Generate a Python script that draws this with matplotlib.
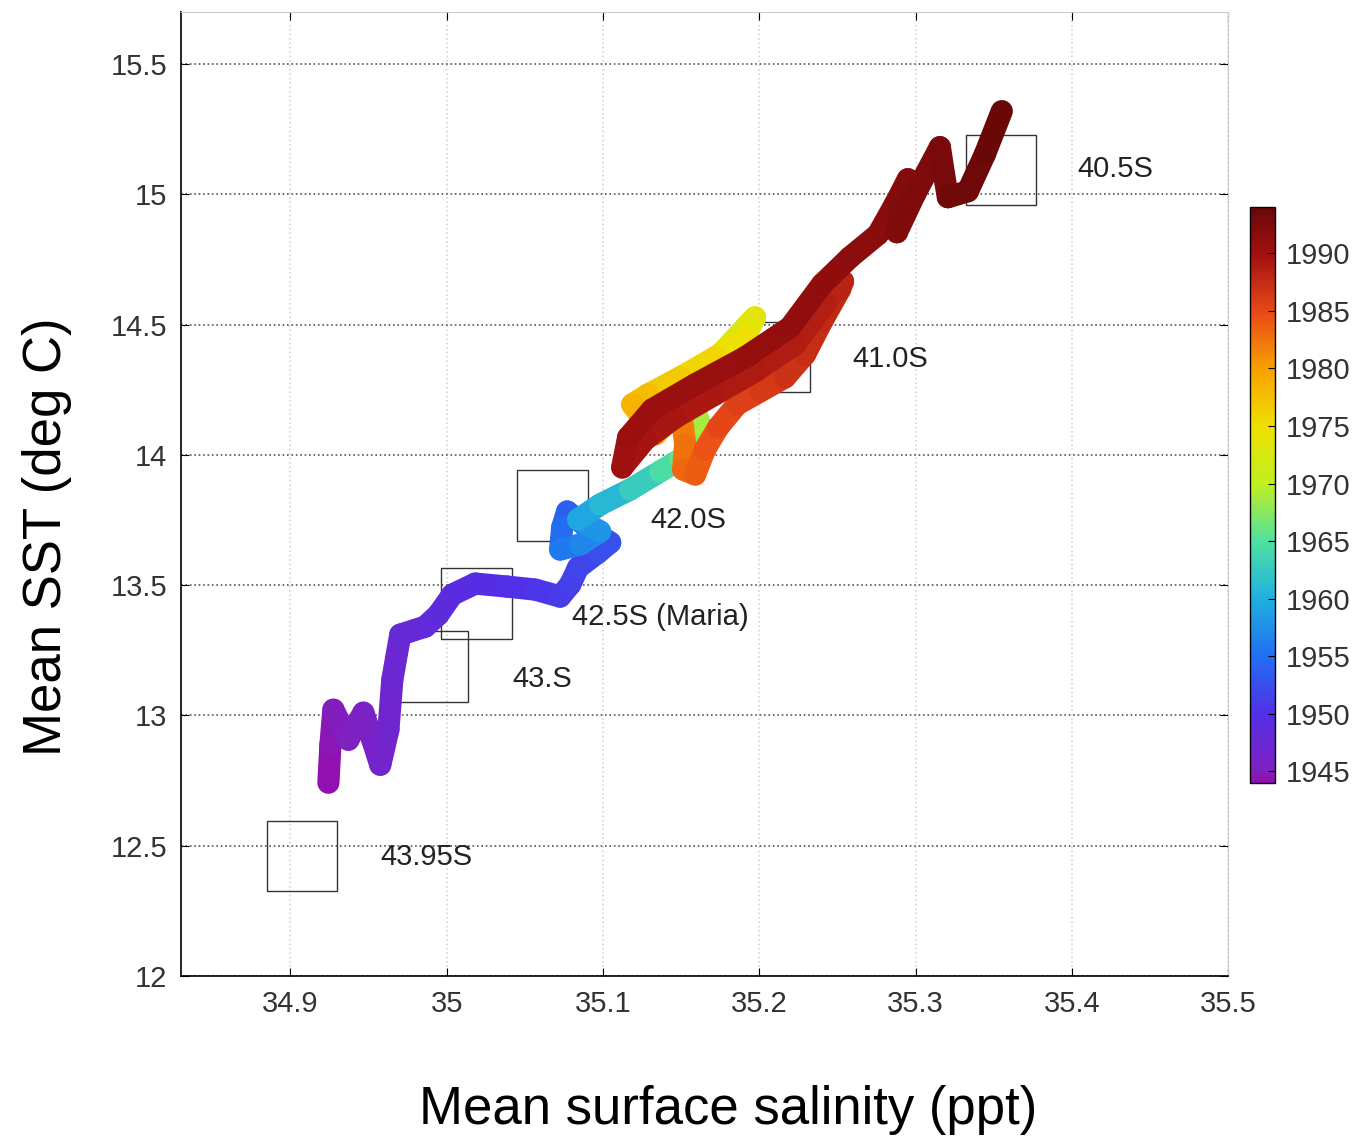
import numpy as np
import matplotlib
matplotlib.use("Agg")
import matplotlib.pyplot as plt
from matplotlib.collections import LineCollection
from matplotlib.colors import LinearSegmentedColormap, Normalize
from matplotlib.patches import Rectangle

plt.rcParams['font.family'] = ['Liberation Sans', 'DejaVu Sans']

# Trajectory of mean surface salinity / SST, coloured by year
salinity = [34.9243, 34.9256, 34.9275, 34.9371, 34.9467, 34.9524, 34.9575, 34.9627,
            34.9652, 34.9703, 34.9863, 34.9946, 35.0036, 35.0183, 35.0387, 35.0567,
            35.0726, 35.0790, 35.0841, 35.0969, 35.1046, 35.0918, 35.0771, 35.0739,
            35.0726, 35.0854, 35.0982, 35.0841, 35.0982, 35.1174, 35.1366, 35.1494,
            35.1590, 35.1621, 35.1558, 35.1621, 35.1781, 35.1928, 35.1973, 35.1909,
            35.1717, 35.1494, 35.1289, 35.1187, 35.1270, 35.1334, 35.1417, 35.1506,
            35.1526, 35.1513, 35.1590, 35.1653, 35.1737, 35.1858, 35.2005, 35.2165,
            35.2293, 35.2402, 35.2517, 35.2536, 35.2421, 35.2229, 35.1973, 35.1717,
            35.1462, 35.1270, 35.1123, 35.1161, 35.1315, 35.1590, 35.1909, 35.2197,
            35.2402, 35.2581, 35.2760, 35.2868, 35.2951, 35.2900, 35.2881, 35.2996,
            35.3156, 35.3182, 35.3207, 35.3335, 35.3444, 35.3552]
sst = [12.7415, 12.8874, 13.0219, 12.9067, 13.0104, 12.9067, 12.8106, 12.9451,
       13.1372, 13.3100, 13.3408, 13.3869, 13.4637, 13.5060, 13.4944, 13.4829,
       13.4560, 13.5021, 13.5674, 13.6251, 13.6635, 13.7134, 13.7826, 13.7211,
       13.6366, 13.6558, 13.7057, 13.7518, 13.8095, 13.8671, 13.9363, 13.9823,
       14.0400, 14.1168, 14.2320, 14.3089, 14.4049, 14.5010, 14.5279, 14.4510,
       14.3742, 14.2974, 14.2320, 14.1936, 14.1283, 14.0784, 14.1283, 14.1360,
       14.0400, 13.9439, 13.9247, 14.0208, 14.1053, 14.1936, 14.2436, 14.2974,
       14.3857, 14.5125, 14.6354, 14.6662, 14.5778, 14.4241, 14.3204, 14.2320,
       14.1437, 14.0592, 13.9516, 14.0669, 14.1744, 14.2705, 14.3742, 14.4895,
       14.6546, 14.7584, 14.8467, 14.9620, 15.0580, 14.9428, 14.8544, 15.0004,
       15.1810, 15.0772, 14.9889, 15.0119, 15.1541, 15.3193]
year = [1944.0, 1944.3, 1944.6, 1945.0, 1945.4, 1945.8, 1946.2, 1946.6,
        1947.0, 1947.5, 1948.0, 1948.4, 1948.8, 1949.3, 1949.8, 1950.3,
        1950.8, 1951.2, 1951.6, 1952.0, 1952.5, 1952.8, 1953.5, 1954.3,
        1955.3, 1956.3, 1957.3, 1958.5, 1960.0, 1961.8, 1963.8, 1965.5,
        1967.0, 1968.3, 1969.5, 1970.5, 1971.8, 1973.0, 1973.5, 1974.2,
        1975.2, 1976.2, 1977.2, 1978.0, 1979.0, 1980.0, 1980.8, 1981.5,
        1982.3, 1983.0, 1983.5, 1984.1, 1984.7, 1985.4, 1986.0, 1986.6,
        1987.1, 1987.5, 1987.9, 1988.1, 1988.4, 1988.7, 1989.0, 1989.2,
        1989.4, 1989.6, 1989.8, 1990.0, 1990.2, 1990.4, 1990.6, 1990.8,
        1991.0, 1991.2, 1991.4, 1991.6, 1991.8, 1992.0, 1992.1, 1992.4,
        1992.7, 1992.9, 1993.1, 1993.4, 1993.7, 1994.0]

# Latitude boxes: (left salinity, bottom sst) and labels
box_names = ['40.5S', '41.0S', '42.0S', '42.5S (Maria)', '43.S', '43.95S']
box_sal = [35.3322, 35.1877, 35.0451, 34.9965, 34.9684, 34.8847]
box_sst = [14.958, 14.2397, 13.671, 13.2947, 13.0526, 12.3266]
label_sal = [35.4038, 35.2593, 35.1302, 35.0803, 35.0419, 34.9575]
label_sst = [15.0965, 14.3665, 13.7518, 13.3792, 13.141, 12.457]
box_w = 0.045
box_h = 0.27

x_ticks = [34.9, 35.0, 35.1, 35.2, 35.3, 35.4, 35.5]
x_tick_labels = ['34.9', '35', '35.1', '35.2', '35.3', '35.4', '35.5']
y_ticks = [12, 12.5, 13, 13.5, 14, 14.5, 15, 15.5]
y_tick_labels = ['12', '12.5', '13', '13.5', '14', '14.5', '15', '15.5']
cbar_ticks = [1945, 1950, 1955, 1960, 1965, 1970, 1975, 1980, 1985, 1990]

cmap = LinearSegmentedColormap.from_list('sst_years', [
    (0.00, '#9010b0'), (0.02, '#8020c0'), (0.12, '#5030e8'), (0.22, '#2070f0'),
    (0.32, '#20b0e0'), (0.42, '#50e0a0'), (0.52, '#c0f020'), (0.62, '#f0e000'),
    (0.72, '#f8a000'), (0.82, '#e84818'), (0.92, '#a01010'), (1.00, '#6a0808')])
norm = Normalize(1944, 1994)

fig = plt.figure(figsize=(13.57, 11.38), dpi=100)
ax = fig.add_axes([0.1334, 0.1424, 0.7716, 0.8471])

for name, bx, by, lx, ly in zip(box_names, box_sal, box_sst, label_sal, label_sst):
    ax.add_patch(Rectangle((bx, by), box_w, box_h, fill=False, ec='#333333', lw=1.0, zorder=2))
    ax.text(lx, ly, name, fontsize=21, color='#222222', ha='left', va='center', zorder=4)

pts = np.column_stack([salinity, sst])
segs = np.stack([pts[:-1], pts[1:]], axis=1)
yr = np.array(year)
lc = LineCollection(segs, cmap=cmap, norm=norm, linewidths=16, capstyle='round',
                    joinstyle='round', zorder=3)
lc.set_array((yr[:-1] + yr[1:]) / 2)
ax.add_collection(lc)

ax.set_xlim(34.83, 35.5)
ax.set_ylim(12, 15.7)
ax.set_xticks(x_ticks)
ax.set_xticklabels(x_tick_labels)
ax.set_yticks(y_ticks)
ax.set_yticklabels(y_tick_labels)
ax.tick_params(direction='in', length=6, labelsize=21, labelcolor='#333333',
               top=True, right=True, pad=10)
ax.xaxis.grid(True, linestyle=':', color='#d4d4d4', lw=1.2)
ax.yaxis.grid(True, linestyle=':', color='#555555', lw=1.2)
ax.set_axisbelow(True)
for s in ['top', 'right']:
    ax.spines[s].set_color('#cccccc')
for s in ['left', 'bottom']:
    ax.spines[s].set_color('black')
    ax.spines[s].set_linewidth(1.2)

ax.set_xlabel('Mean surface salinity (ppt)', fontsize=38, labelpad=48)
ax.set_ylabel('Mean SST (deg C)', fontsize=38, labelpad=28)
ax.xaxis.label.set_x(0.5224)
ax.yaxis.label.set_y(0.4554)

cax = fig.add_axes([0.9211, 0.312, 0.0184, 0.506])
cb = fig.colorbar(lc, cax=cax, ticks=cbar_ticks)
cb.ax.tick_params(direction='in', length=5, labelsize=21, labelcolor='#333333', pad=8)
cb.outline.set_linewidth(1.0)

fig.savefig('out.png', dpi=100)
